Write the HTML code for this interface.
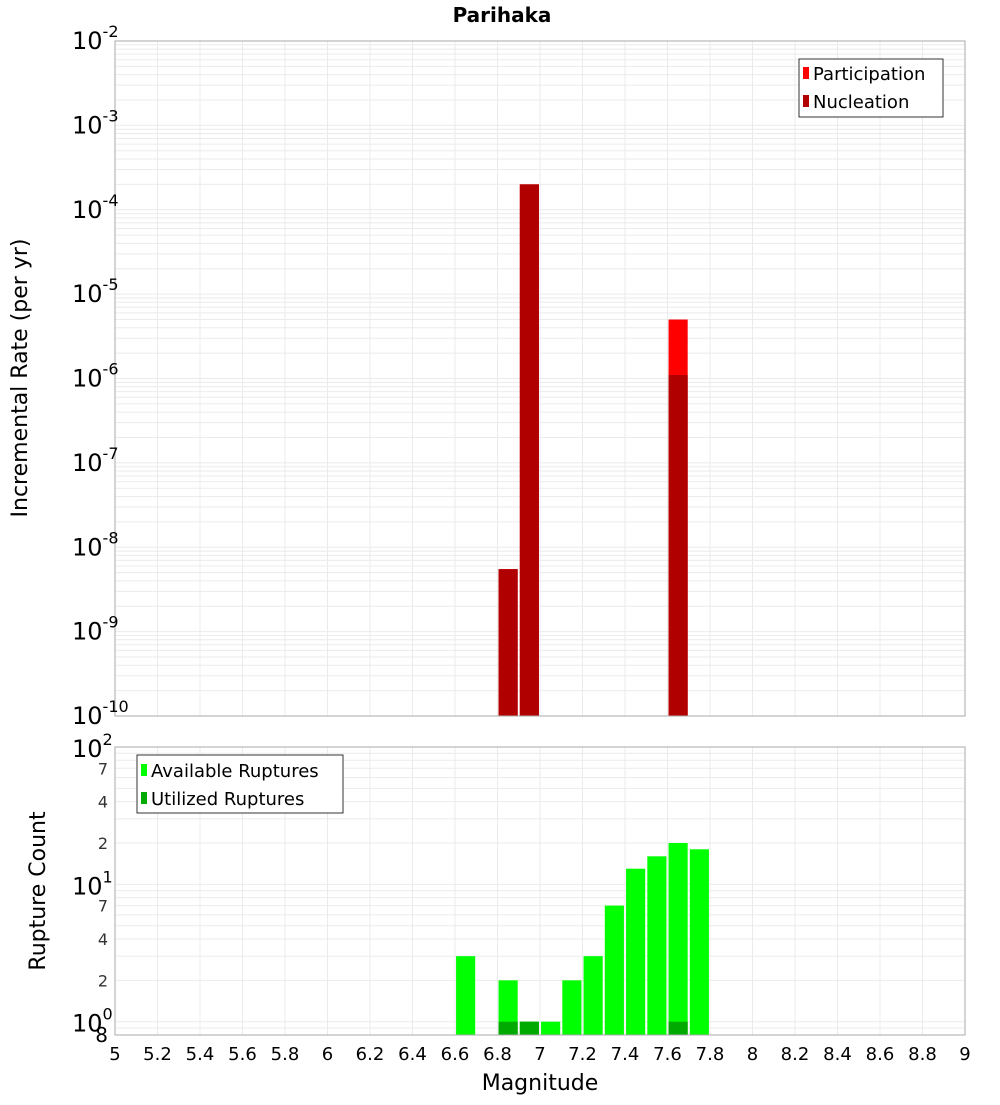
<!DOCTYPE html>
<html><head><meta charset="utf-8"><style>
body{margin:0;background:#fff;font-family:"Liberation Sans","DejaVu Sans",sans-serif}
svg text{font-family:"DejaVu Sans","Liberation Sans",sans-serif}
</style></head><body>
<svg id="c" width="1000" height="1100" xmlns="http://www.w3.org/2000/svg">
<text x="502" y="22" text-anchor="middle" font-size="20" font-weight="bold">Parihaka</text>
<g id="topPanel"></g>
<g id="botPanel"></g>
<text transform="translate(27,378) rotate(-90)" text-anchor="middle" font-size="22">Incremental Rate (per yr)</text>
<text transform="translate(45,891) rotate(-90)" text-anchor="middle" font-size="22">Rupture Count</text>
<text x="540" y="1090" text-anchor="middle" font-size="22">Magnitude</text>
<g>
<rect x="799" y="59" width="144" height="58" fill="#fff" stroke="#333"/>
<rect x="803" y="67" width="6" height="12" fill="#ff0000"/><text x="813" y="80" font-size="18">Participation</text>
<rect x="803" y="95" width="6" height="12" fill="#b00000"/><text x="813" y="108" font-size="18">Nucleation</text>
</g>
<g>
<rect x="137" y="755" width="206" height="58" fill="#fff" stroke="#333"/>
<rect x="141" y="764" width="6" height="12" fill="#00ff00"/><text x="151" y="777" font-size="18">Available Ruptures</text>
<rect x="141" y="792" width="6" height="12" fill="#00aa00"/><text x="151" y="805" font-size="18">Utilized Ruptures</text>
</g>
</svg>
<script>
const mags=[6.65,6.85,6.95,7.05,7.15,7.25,7.35,7.45,7.55,7.65,7.75];
const participation=[0,5.5e-9,2e-4,0,0,0,0,0,0,5e-6,0];
const nucleation=[0,5.5e-9,2e-4,0,0,0,0,0,0,1.1e-6,0];
const available=[3,2,1,1,2,3,7,13,16,20,18];
const utilized=[0,1,1,0,0,0,0,0,0,1,0];
const xTicks=[5,5.2,5.4,5.6,5.8,6,6.2,6.4,6.6,6.8,7,7.2,7.4,7.6,7.8,8,8.2,8.4,8.6,8.8,9];
const topDecades=[-10,-9,-8,-7,-6,-5,-4,-3,-2];
const botMinor=[2,4,7,20,40,70];

const NS="http://www.w3.org/2000/svg";
const L=115,R=965;
const X=m=>L+(m-5)/4*(R-L);
const T0=41,T1=716,yT=v=>T1-(Math.log10(v)+10)/8*(T1-T0);
const B0=747,B1=1035,lmin=Math.log10(0.8),yB=v=>B1-(Math.log10(v)-lmin)/(2-lmin)*(B1-B0);
function el(p,tag,a,txt){const e=document.createElementNS(NS,tag);for(const k in a)e.setAttribute(k,a[k]);if(txt!==undefined)e.textContent=txt;p.appendChild(e);return e;}
const gTop=document.getElementById('topPanel'),gBot=document.getElementById('botPanel');
// grids
[[gTop,T0,T1],[gBot,B0,B1]].forEach(([g,a,b])=>{xTicks.forEach(t=>{const l=el(g,'line',{x1:X(t),x2:X(t),y1:a,y2:b,stroke:'#ebebeb'});});});
topDecades.forEach(d=>{for(let k=1;k<10;k++){const v=k*Math.pow(10,d);if(v>1.0001e-2)break;const y=yT(v);const l=el(gTop,'line',{x1:L,x2:R,y1:y,y2:y,stroke:'#ebebeb'});}});
[0.8,0.9,1,2,3,4,5,6,7,8,9,10,20,30,40,50,60,70,80,90,100].forEach(v=>{const y=yB(v);const l=el(gBot,'line',{x1:L,x2:R,y1:y,y2:y,stroke:'#ebebeb'});});
// bars
const bw=0.09;
mags.forEach((m,i)=>{
 const x=X(m-bw/2),w=X(m+bw/2)-x;
 if(participation[i]>0){const r=el(gTop,'rect',{x:x,y:yT(participation[i]),width:w,height:T1-yT(participation[i]),fill:'#ff0000'});}
 if(nucleation[i]>0){const r=el(gTop,'rect',{x:x,y:yT(nucleation[i]),width:w,height:T1-yT(nucleation[i]),fill:'#b00000'});}
 if(available[i]>0){const r=el(gBot,'rect',{x:x,y:yB(available[i]),width:w,height:B1-yB(available[i]),fill:'#00ff00'});}
 if(utilized[i]>0){const r=el(gBot,'rect',{x:x,y:yB(utilized[i]),width:w,height:B1-yB(utilized[i]),fill:'#00aa00'});}
});
// frames
[[gTop,T0,T1],[gBot,B0,B1]].forEach(([g,a,b])=>{const r=el(g,'rect',{x:L,y:a,width:R-L,height:b-a,fill:'none',stroke:'#aaa'});});
// top y labels
topDecades.forEach(d=>{const y=yT(Math.pow(10,d));const t=el(gTop,'text',{x:72,y:y+8,'font-size':24});t.textContent='10';el(t,'tspan',{dy:-12,'font-size':16},String(d));});
// bottom y labels
[[0,1],[1,10],[2,100]].forEach(([d,v])=>{const y=yB(v);const t=el(gBot,'text',{x:72,y:y+10,'font-size':24});t.textContent='10';el(t,'tspan',{dy:-12,'font-size':16},String(d));});
botMinor.forEach(v=>{const t=el(gBot,'text',{x:108,y:yB(v)+6,'font-size':16,'text-anchor':'end',fill:'#333'},String(v).charAt(0));});
{const t=el(gBot,'text',{x:108,y:1042,'font-size':20,'text-anchor':'end'},'8');}
// x labels
xTicks.forEach(v=>{const t=el(gBot,'text',{x:X(v),y:1060,'font-size':18,'text-anchor':'middle'},String(v));});
</script>
</body></html>
